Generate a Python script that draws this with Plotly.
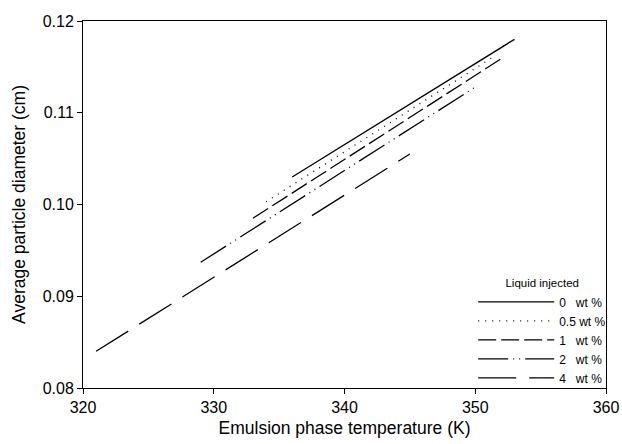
import plotly.graph_objects as go

# Data (temperature K, diameter cm)
series_names = ["0\u00a0\u00a0\u00a0wt %", "0.5 wt %", "1\u00a0\u00a0\u00a0wt %", "2\u00a0\u00a0\u00a0wt %", "4\u00a0\u00a0\u00a0wt %"]
temp_0 = [336.0, 353.0]
diam_0 = [0.1030, 0.1180]
temp_05 = [334.0, 351.5]
diam_05 = [0.1003, 0.1162]
temp_1 = [333.0, 352.0]
diam_1 = [0.0985, 0.1159]
temp_2 = [329.0, 350.0]
diam_2 = [0.0937, 0.1128]
temp_4 = [321.0, 345.0]
diam_4 = [0.0840, 0.1055]

x_ticks = [320, 330, 340, 350, 360]
y_ticks = [0.08, 0.09, 0.10, 0.11, 0.12]

dashes = ["solid", "1px,6px", "18px,5px", "30px,5px,1px,5px,1px,5px", "38px,13px"]
xs = [temp_0, temp_05, temp_1, temp_2, temp_4]
ys = [diam_0, diam_05, diam_1, diam_2, diam_4]

fig = go.Figure()
for name, x, y, d in zip(series_names, xs, ys, dashes):
    fig.add_trace(go.Scatter(x=x, y=y, mode="lines", name=name,
                             line=dict(color="black", width=1.3, dash=d)))

font = "Liberation Sans, Arial, sans-serif"
fig.update_layout(
    width=622, height=444,
    margin=dict(l=83, r=15, t=21, b=56),
    paper_bgcolor="white", plot_bgcolor="white",
    font=dict(family=font, color="black", size=13),
    showlegend=True,
    legend=dict(
        x=1.008, y=-0.012, xanchor="right", yanchor="bottom",
        bgcolor="rgba(0,0,0,0)",
        itemwidth=76,
        tracegroupgap=0,
        font=dict(family=font, size=12, color="black"),
        title=dict(text="Liquid injected", side="top center",
                   font=dict(family=font, size=11.5, color="black")),
    ),
    xaxis=dict(
        range=[320, 360], tickvals=x_ticks, ticktext=[str(v) for v in x_ticks],
        showgrid=False, zeroline=False, automargin=False,
        showline=True, linecolor="black", linewidth=1, mirror=True,
        ticks="outside", ticklen=5, tickcolor="black",
        tickfont=dict(size=16),
        title=dict(text="Emulsion phase temperature (K)", font=dict(size=17.5), standoff=6),
    ),
    yaxis=dict(
        range=[0.08, 0.12], tickvals=y_ticks, ticktext=[f"{v:.2f}" for v in y_ticks],
        showgrid=False, zeroline=False, automargin=False,
        showline=True, linecolor="black", linewidth=1, mirror=True,
        ticks="outside", ticklen=5, tickcolor="black",
        tickfont=dict(size=16),
        title=dict(text="Average particle diameter (cm)", font=dict(size=17.5), standoff=12),
    ),
)

fig.write_html(
    "out.html",
    config={"displayModeBar": False},
    post_script="document.body.style.margin='0';document.body.style.overflow='hidden';",
)
